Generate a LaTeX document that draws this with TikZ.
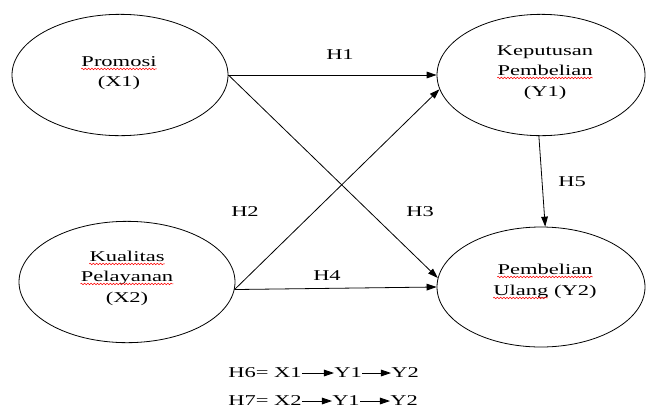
\documentclass[tikz,border=0pt]{standalone}
\usepackage{fontspec}
\setmainfont{Liberation Serif}[FakeStretch=1.5]
\usetikzlibrary{shapes.geometric,arrows.meta,decorations.pathmorphing}

\tikzstyle{variabel}= [ellipse,draw,black,line width=0.6pt,inner sep=0pt]
\tikzstyle{panah}= [black,line width=0.6pt,-{Triangle[length=7.5pt,width=5pt]}]
\tikzstyle{teks}= [inner sep=0pt]
\tikzstyle{kata}= [inner sep=0pt,anchor=base]
\tikzstyle{ejaan}= [red,line width=0.4pt,decorate,decoration={snake,amplitude=0.6pt,segment length=2.4pt}]

\begin{document}
\begin{tikzpicture}[x=0.75pt,y=-0.75pt,font=\fontsize{11.25pt}{15pt}\selectfont]
		\useasboundingbox (0,0) rectangle (646,408);

		\node (x1) at (120,75) [variabel,minimum width=162pt,minimum height=91pt] {};
		\node (x2) at (127,282) [variabel,minimum width=162pt,minimum height=91pt] {};
		\node (y1) at (541,75) [variabel,minimum width=156pt,minimum height=91pt] {};
		\node (y2) at (541,287) [variabel,minimum width=156pt,minimum height=90pt] {};

		\node (promosi) at (119,66) [kata] {Promosi};
		\node (x1lbl) at (119,86) [kata] {(X1)};
		\node (kualitas) at (127,261) [kata] {Kualitas};
		\node (pelayanan) at (127,281) [kata] {Pelayanan};
		\node (x2lbl) at (127,302) [kata] {(X2)};
		\node (keputusan) at (545,55) [kata] {Keputusan};
		\node (pembelian1) at (545,75) [kata] {Pembelian};
		\node (y1lbl) at (545,96) [kata] {(Y1)};
		\node (pembelian2) at (545,274) [kata] {Pembelian};
		\node (ulang) at (545,295) [kata] {Ulang (Y2)};

		\draw[ejaan] ([yshift=-2.2pt]promosi.base west) -- ([yshift=-2.2pt]promosi.base east);
		\draw[ejaan] ([yshift=-2.2pt]kualitas.base west) -- ([yshift=-2.2pt]kualitas.base east);
		\draw[ejaan] ([yshift=-2.2pt]pelayanan.base west) -- ([yshift=-2.2pt]pelayanan.base east);
		\draw[ejaan] ([yshift=-2.2pt]pembelian1.base west) -- ([yshift=-2.2pt]pembelian1.base east);
		\draw[ejaan] ([yshift=-2.2pt]pembelian2.base west) -- ([yshift=-2.2pt]pembelian2.base east);
		\draw[ejaan] ([yshift=-2.2pt]ulang.base west) -- ([shift={(41pt,-2.2pt)}]ulang.base west);

		\node (h1) at (340,55) [teks] {H1};
		\node (h2) at (245,212) [teks] {H2};
		\node (h3) at (420,212) [teks] {H3};
		\node (h4) at (327,276) [teks] {H4};
		\node (h5) at (572,182) [teks] {H5};

		\path[panah] (x1.east) edge[] node {} (y1.west);
		\path[panah] (x1.east) edge[] node {} (y2.175);
		\path[panah] (x2.-4) edge[] node {} (y1.188);
		\path[panah] (x2.-4) edge[] node {} (y2.west);
		\path[panah] (y1.268) edge[] node {} (y2.86);

		\node (h6a) at (228,373) [teks,anchor=west] {H6= X1};
		\node (h6b) at (348,373) [teks] {Y1};
		\node (h6c) at (405,373) [teks] {Y2};
		\node (h7a) at (228,401) [teks,anchor=west] {H7= X2};
		\node (h7b) at (346,401) [teks] {Y1};
		\node (h7c) at (404,401) [teks] {Y2};

		\path[panah] (h6a) edge[] node {} (h6b);
		\path[panah] (h6b) edge[] node {} (h6c);
		\path[panah] (h7a) edge[] node {} (h7b);
		\path[panah] (h7b) edge[] node {} (h7c);
		\end{tikzpicture}
\end{document}
